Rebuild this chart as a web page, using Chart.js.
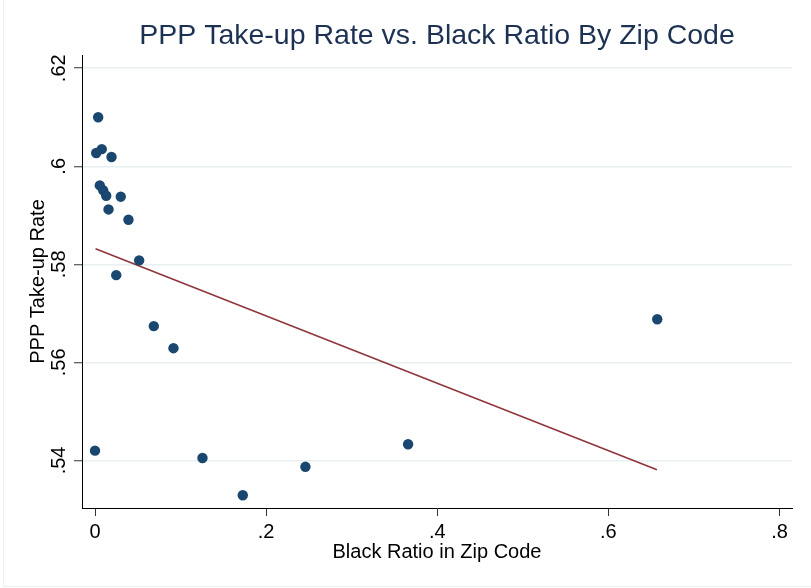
<!DOCTYPE html>
<html>
<head>
<meta charset="utf-8">
<script src="https://cdn.jsdelivr.net/npm/chart.js@4"></script>
<style>
  html, body { margin: 0; padding: 0; background: #fff; }
  #wrap { width: 811px; height: 588px; position: relative; }
</style>
</head>
<body>
<div id="wrap"><canvas id="chart" width="811" height="588"></canvas></div>
<script>
'use strict';

// Scatter points (black ratio, take-up rate)
const ratioX = [0.0037, 0.0014, 0.0079, 0.0193, 0.0056, 0.0096, 0.0131, 0.0301, 0.0158, 0.0391,
                0.0516, 0.0248, 0.0687, 0.0917, 0.0000, 0.1256, 0.1727, 0.2459, 0.3659, 0.6571];
const takeupY = [0.6100, 0.6027, 0.6035, 0.6019, 0.5961, 0.5951, 0.5940, 0.5938, 0.5912, 0.5891,
                 0.5808, 0.5778, 0.5674, 0.5629, 0.5420, 0.5405, 0.5329, 0.5387, 0.5433, 0.5688];

// Fitted line end points
const fitX = [0.0006, 0.6568];
const fitY = [0.5832, 0.5381];

const xTicks = [0, 0.2, 0.4, 0.6, 0.8];
const yTicks = [0.54, 0.56, 0.58, 0.60, 0.62];

const TITLE = 'PPP Take-up Rate vs. Black Ratio By Zip Code';
const FONT = '"Liberation Sans", Arial, Helvetica, sans-serif';

const fmt = v => {
  const s = Number(v.toFixed(2)).toString();
  return s.replace(/^0\./, '.');
};

const titlePlugin = {
  id: 'stataTitle',
  afterDraw(chart) {
    const { ctx, chartArea } = chart;
    ctx.save();
    ctx.fillStyle = '#1c3153';
    ctx.font = '28.5px ' + FONT;
    ctx.textAlign = 'center';
    ctx.textBaseline = 'middle';
    ctx.fillText(TITLE, (chartArea.left + chartArea.right) / 2, 36);
    // faint graph region outline
    ctx.strokeStyle = '#e9f0f2';
    ctx.lineWidth = 1;
    ctx.beginPath();
    ctx.moveTo(3.5, 0);
    ctx.lineTo(3.5, 586.5);
    ctx.lineTo(811, 586.5);
    ctx.stroke();
    ctx.restore();
  }
};

new Chart(document.getElementById('chart'), {
  type: 'scatter',
  data: {
    datasets: [
      {
        label: 'Take-up rate',
        data: ratioX.map((x, i) => ({ x, y: takeupY[i] })),
        backgroundColor: '#1a476f',
        borderColor: '#1a476f',
        pointRadius: 5.2,
        pointHoverRadius: 5.2,
        borderWidth: 0,
        order: 1
      },
      {
        label: 'Fitted values',
        type: 'line',
        data: fitX.map((x, i) => ({ x, y: fitY[i] })),
        borderColor: '#90353b',
        borderWidth: 1.6,
        pointRadius: 0,
        fill: false,
        order: 2
      }
    ]
  },
  options: {
    responsive: false,
    animation: false,
    devicePixelRatio: 1,
    layout: { padding: { top: 55, right: 19, left: 0, bottom: 0 } },
    plugins: {
      legend: { display: false },
      tooltip: { enabled: false },
      title: { display: false }
    },
    scales: {
      x: {
        type: 'linear',
        min: -0.0152,
        max: 0.8146,
        afterBuildTicks: s => { s.ticks = xTicks.map(v => ({ value: v })); },
        afterFit: s => { s.height = 80; },
        ticks: {
          callback: fmt,
          color: '#000',
          padding: 4,
          font: { family: FONT, size: 20 }
        },
        grid: { display: true, drawOnChartArea: false, drawTicks: true, tickLength: 8, color: '#333', lineWidth: 1 },
        border: { display: true, color: '#000', width: 1 },
        title: {
          display: true,
          text: 'Black Ratio in Zip Code',
          color: '#000',
          font: { family: FONT, size: 20 },
          padding: { top: 0, bottom: 24 }
        }
      },
      y: {
        type: 'linear',
        min: 0.5303,
        max: 0.6227,
        afterBuildTicks: s => { s.ticks = yTicks.map(v => ({ value: v })); },
        afterFit: s => { s.width = 82; },
        ticks: {
          callback: fmt,
          color: '#000',
          padding: 1,
          crossAlign: 'center',
          minRotation: 90,
          maxRotation: 90,
          font: { family: FONT, size: 20 }
        },
        grid: {
          color: '#e8eff1',
          lineWidth: 1.5,
          tickLength: 8,
          tickColor: '#333',
          tickWidth: 1
        },
        border: { display: true, color: '#000', width: 1 },
        title: {
          display: true,
          text: 'PPP Take-up Rate',
          color: '#000',
          font: { family: FONT, size: 20 },
          padding: { top: 26, bottom: 0 }
        }
      }
    }
  },
  plugins: [titlePlugin]
});
</script>
</body>
</html>
